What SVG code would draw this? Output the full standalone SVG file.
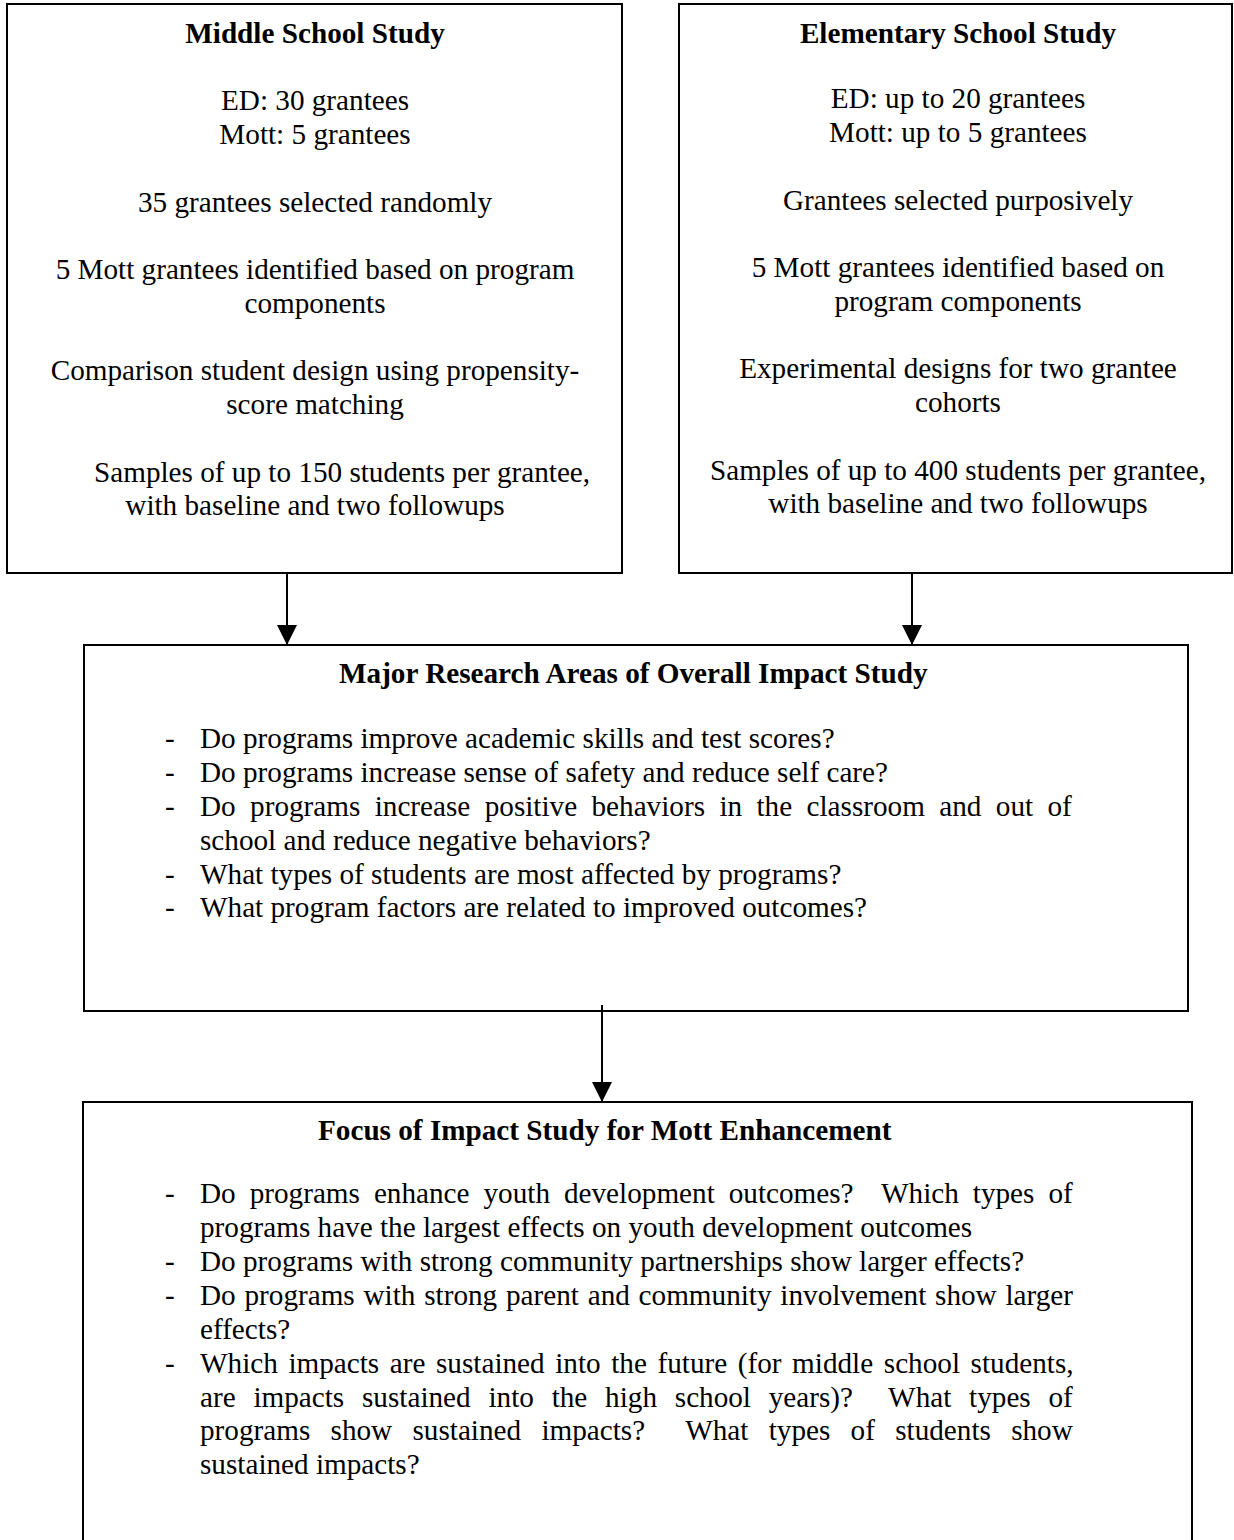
<svg xmlns="http://www.w3.org/2000/svg" width="1234" height="1540" viewBox="0 0 1234 1540">
<style>
  .box { fill: #ffffff; stroke: #000000; stroke-width: 2; }
  .t { font-family: "Liberation Serif", "Times New Roman", serif; font-size: 29.2px; fill: #000000; }
  .c { text-anchor: middle; }
  .b { font-weight: bold; }
  .conn { stroke: #000000; stroke-width: 2; fill: none; }
</style>
<defs>
  <marker id="arrow" markerUnits="userSpaceOnUse" markerWidth="20" markerHeight="20" viewBox="0 0 20 20" refX="20" refY="10" orient="auto">
    <path d="M0,0 L20,10 L0,20 Z" fill="#000000"/>
  </marker>
</defs>
<rect x="0" y="0" width="1234" height="1540" fill="#ffffff"/>

<g id="middle-school">
  <rect class="box" x="7" y="4" width="615" height="569"/>
  <text class="t c b" x="315" y="43">Middle School Study</text>
  <text class="t c" x="315" y="110">ED: 30 grantees</text>
  <text class="t c" x="315" y="144">Mott: 5 grantees</text>
  <text class="t c" x="315" y="212">35 grantees selected randomly</text>
  <text class="t c" x="315" y="279">5 Mott grantees identified based on program</text>
  <text class="t c" x="315" y="313">components</text>
  <text class="t c" x="315" y="380">Comparison student design using propensity-</text>
  <text class="t c" x="315" y="414">score matching</text>
  <text class="t" x="94" y="482">Samples of up to 150 students per grantee,</text>
  <text class="t c" x="315" y="515">with baseline and two followups</text>
</g>

<g id="elementary-school">
  <rect class="box" x="679" y="4" width="553" height="569"/>
  <text class="t c b" x="958" y="43">Elementary School Study</text>
  <text class="t c" x="958" y="108">ED: up to 20 grantees</text>
  <text class="t c" x="958" y="142">Mott: up to 5 grantees</text>
  <text class="t c" x="958" y="210">Grantees selected purposively</text>
  <text class="t c" x="958" y="277">5 Mott grantees identified based on</text>
  <text class="t c" x="958" y="311">program components</text>
  <text class="t c" x="958" y="378">Experimental designs for two grantee</text>
  <text class="t c" x="958" y="412">cohorts</text>
  <text class="t c" x="958" y="480">Samples of up to 400 students per grantee,</text>
  <text class="t c" x="958" y="513">with baseline and two followups</text>
</g>

<g id="major-research">
  <rect class="box" x="84" y="645" width="1104" height="366"/>
  <text class="t b" x="339" y="683">Major Research Areas of Overall Impact Study</text>
  <text class="t" x="165" y="748">-</text>
  <text class="t" x="200" y="748">Do programs improve academic skills and test scores?</text>
  <text class="t" x="165" y="782">-</text>
  <text class="t" x="200" y="782">Do programs increase sense of safety and reduce self care?</text>
  <text class="t" x="165" y="816">-</text>
  <text class="t" x="200" y="816" word-spacing="7.1">Do programs increase positive behaviors in the classroom and out of</text>
  <text class="t" x="200" y="850">school and reduce negative behaviors?</text>
  <text class="t" x="165" y="884">-</text>
  <text class="t" x="200" y="884">What types of students are most affected by programs?</text>
  <text class="t" x="165" y="917">-</text>
  <text class="t" x="200" y="917">What program factors are related to improved outcomes?</text>
</g>

<g id="mott-focus">
  <rect class="box" x="83" y="1102" width="1109" height="450"/>
  <text class="t b" x="318" y="1140">Focus of Impact Study for Mott Enhancement</text>
  <text class="t" x="165" y="1203">-</text>
  <text class="t" x="200" y="1203" word-spacing="6.7" xml:space="preserve">Do programs enhance youth development outcomes?  Which types of</text>
  <text class="t" x="200" y="1237">programs have the largest effects on youth development outcomes</text>
  <text class="t" x="165" y="1271">-</text>
  <text class="t" x="200" y="1271">Do programs with strong community partnerships show larger effects?</text>
  <text class="t" x="165" y="1305">-</text>
  <text class="t" x="200" y="1305" word-spacing="1.5">Do programs with strong parent and community involvement show larger</text>
  <text class="t" x="200" y="1339">effects?</text>
  <text class="t" x="165" y="1373">-</text>
  <text class="t" x="200" y="1373" word-spacing="3.3">Which impacts are sustained into the future (for middle school students,</text>
  <text class="t" x="200" y="1407" word-spacing="10.5" xml:space="preserve">are impacts sustained into the high school years)?  What types of</text>
  <text class="t" x="200" y="1440" word-spacing="13" xml:space="preserve">programs show sustained impacts?  What types of students show</text>
  <text class="t" x="200" y="1474">sustained impacts?</text>
</g>

<g id="connectors">
  <line class="conn" x1="287" y1="573" x2="287" y2="645" marker-end="url(#arrow)"/>
  <line class="conn" x1="912" y1="573" x2="912" y2="645" marker-end="url(#arrow)"/>
  <line class="conn" x1="602" y1="1005" x2="602" y2="1102" marker-end="url(#arrow)"/>
</g>
</svg>
